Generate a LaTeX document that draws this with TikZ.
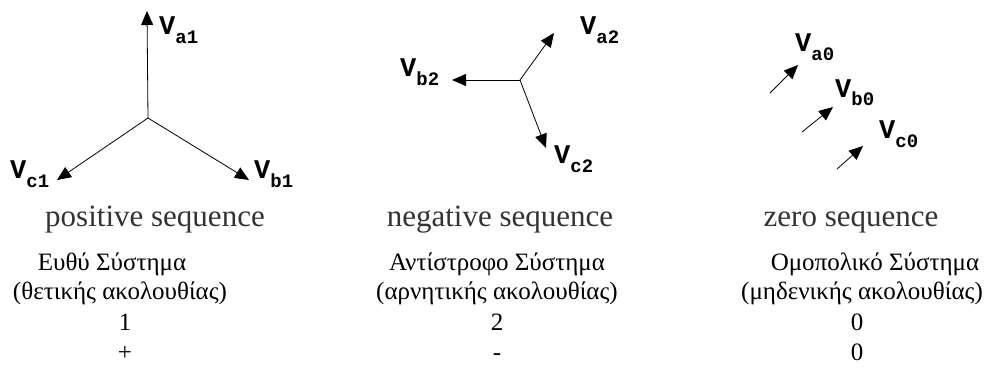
\documentclass[tikz,border=0pt]{standalone}
\usepackage{fontspec}
\setmainfont{Liberation Serif}
\newfontfamily\labelfont{Liberation Mono}
\usetikzlibrary{arrows.meta, positioning}

% phasor label: V with a lowered index
\newcommand{\vlab}[1]{V\raisebox{-9pt}{\fontsize{19}{19}\selectfont #1}}

\begin{document}
\begin{tikzpicture}[x=1pt, y=-1pt, >={Triangle[length=14pt, width=12pt]},
  phasor/.style={->, line width=0.8pt},
  vlabel/.style={font=\labelfont\bfseries\fontsize{27}{27}\selectfont, inner sep=0pt, anchor=base west},
  seqname/.style={font=\fontsize{31}{31}\selectfont, text=black!80, inner sep=0pt, anchor=base},
  greekline/.style={font=\fontsize{25}{25}\selectfont, inner sep=0pt, anchor=base}]

\useasboundingbox (0,0) rectangle (988,369);

% positive sequence
\coordinate (o1) at (148,118);
\coordinate (a1) at (147,11);
\coordinate (b1) at (249,180);
\coordinate (c1) at (57,180);
\draw[phasor] (o1) -- (a1);
\draw[phasor] (o1) -- (b1);
\draw[phasor] (o1) -- (c1);
\node[vlabel] (la1) at (159,35) {\vlab{a1}};
\node[vlabel] (lb1) at (254,178) {\vlab{b1}};
\node[vlabel] (lc1) at (10,178) {\vlab{c1}};

% negative sequence
\coordinate (o2) at (520,80);
\coordinate (a2) at (554,33);
\coordinate (b2) at (452,80);
\coordinate (c2) at (546,148);
\draw[phasor] (o2) -- (a2);
\draw[phasor] (o2) -- (b2);
\draw[phasor] (o2) -- (c2);
\node[vlabel] (la2) at (580,35) {\vlab{a2}};
\node[vlabel] (lb2) at (400,77) {\vlab{b2}};
\node[vlabel] (lc2) at (554,163) {\vlab{c2}};

% zero sequence
\coordinate (s0a) at (770,93);
\coordinate (e0a) at (798,65);
\coordinate (s0b) at (802,132);
\coordinate (e0b) at (833,107);
\coordinate (s0c) at (837,169);
\coordinate (e0c) at (863,146);
\draw[phasor] (s0a) -- (e0a);
\draw[phasor] (s0b) -- (e0b);
\draw[phasor] (s0c) -- (e0c);
\node[vlabel] (la0) at (795,52) {\vlab{a0}};
\node[vlabel] (lb0) at (835,97) {\vlab{b0}};
\node[vlabel] (lc0) at (879,138) {\vlab{c0}};

% captions
\node[seqname] (pos) at (155,226) {positive sequence};
\node[seqname] (neg) at (500,226) {negative sequence};
\node[seqname] (zer) at (851,226) {zero sequence};

\node[greekline] (pos1) at (112,270) {Ευθύ Σύστημα};
\node[greekline] (pos2) at (120,299) {(θετικής ακολουθίας)};
\node[greekline] (pos3) at (125,330) {1};
\node[greekline] (pos4) at (125,360) {+};

\node[greekline] (neg1) at (497,270) {Αντίστροφο Σύστημα};
\node[greekline] (neg2) at (497,299) {(αρνητικής ακολουθίας)};
\node[greekline] (neg3) at (497,330) {2};
\node[greekline] (neg4) at (497,360) {-};

\node[greekline] (zer1) at (875,270) {Ομοπολικό Σύστημα};
\node[greekline] (zer2) at (862,299) {(μηδενικής ακολουθίας)};
\node[greekline] (zer3) at (857,330) {0};
\node[greekline] (zer4) at (857,360) {0};

\end{tikzpicture}
\end{document}
